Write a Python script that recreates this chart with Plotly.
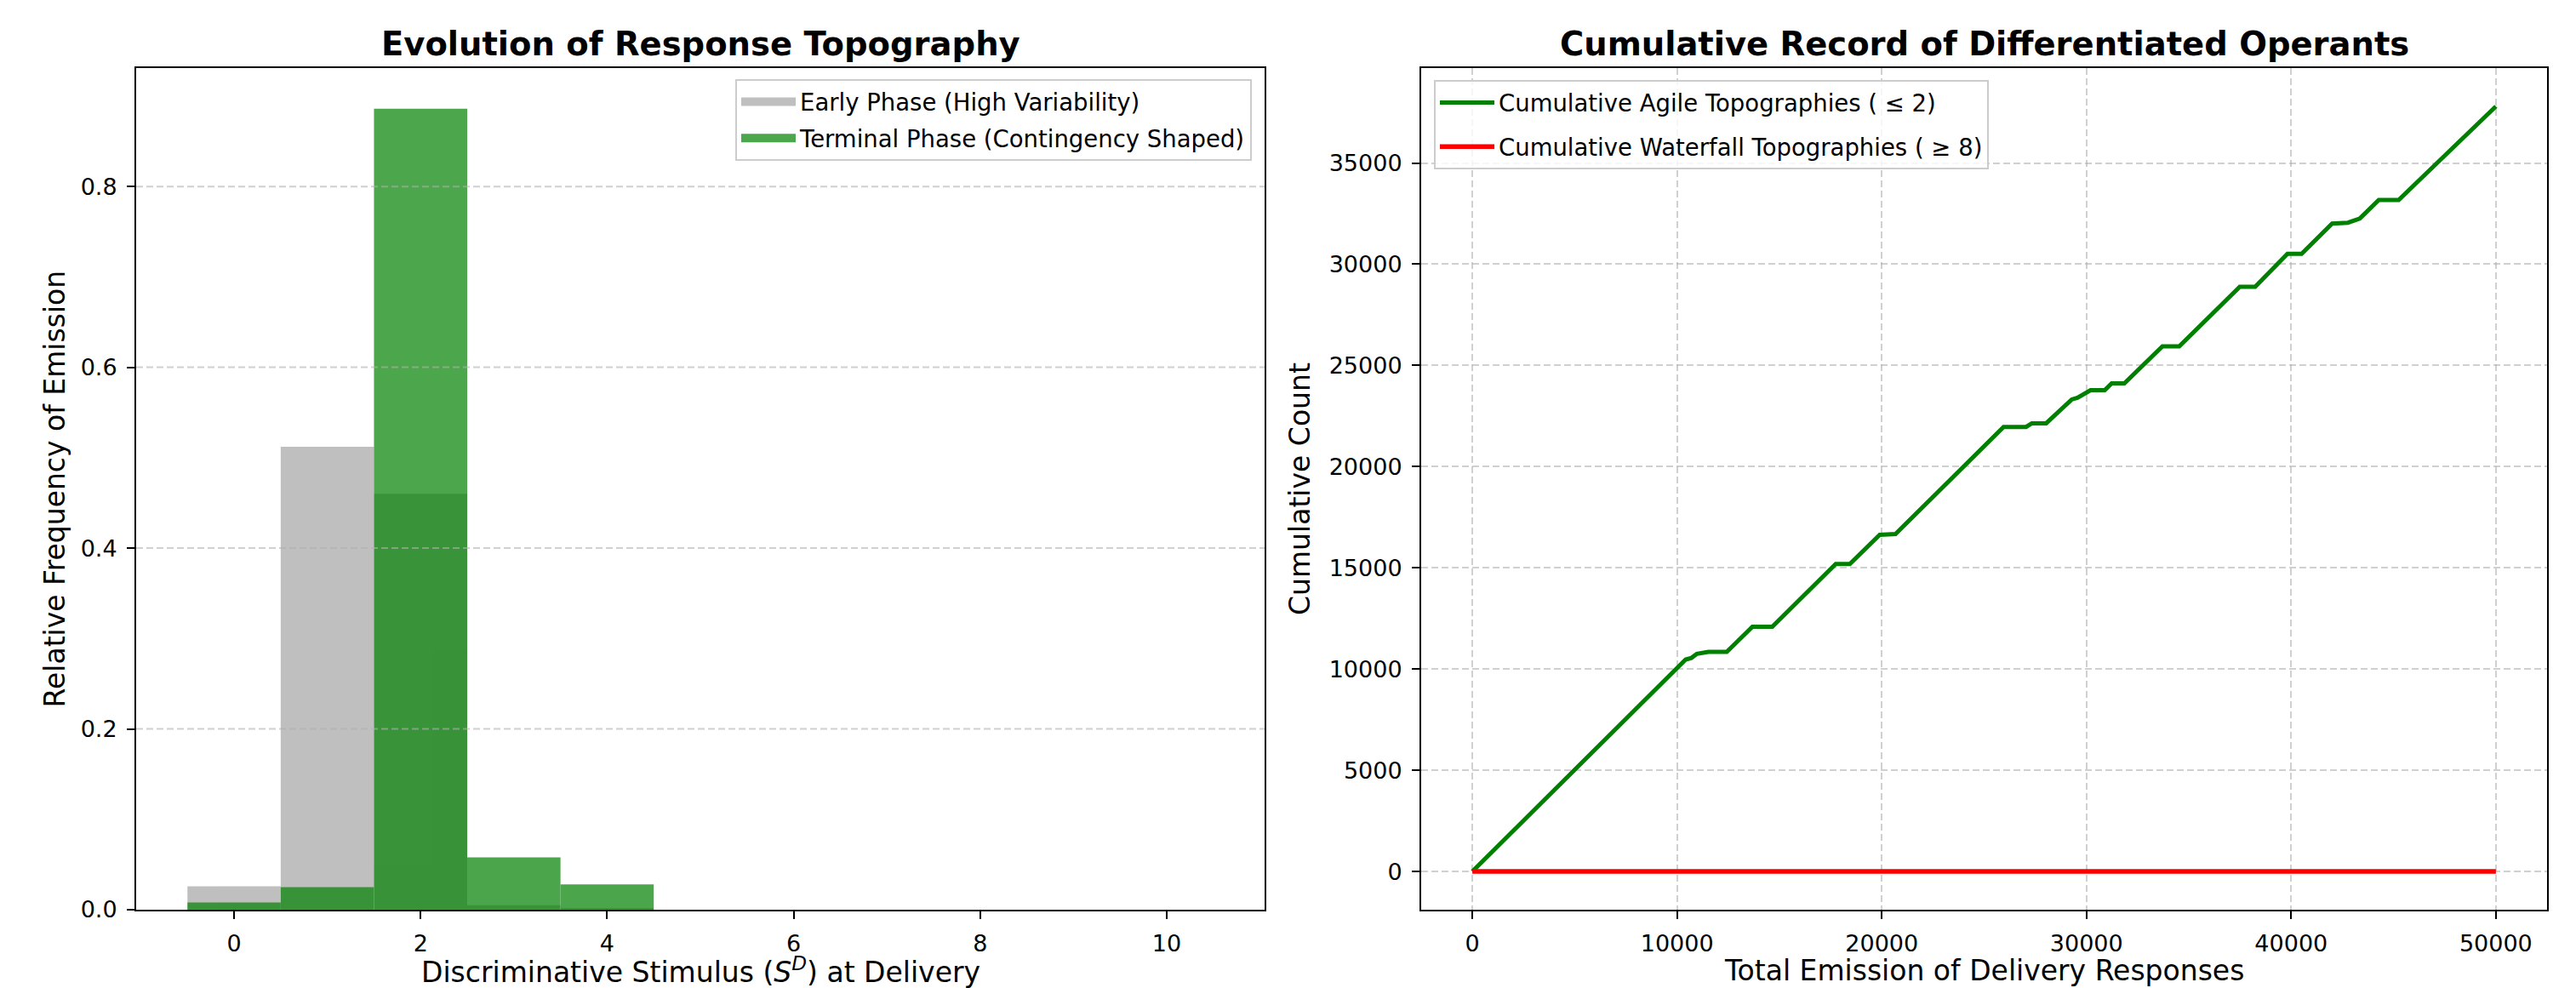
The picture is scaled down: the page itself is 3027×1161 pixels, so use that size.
import plotly.graph_objects as go

W, H = 3027, 1161
MT, MB = 80, 92
PLOT_H = H - MT - MB
FONT = "DejaVu Sans"

# ---------------- Left panel: histogram (relative frequency per S^D bin) ----------------
sd_bins = list(range(11))
early_freq = [0.026, 0.512, 0.460, 0.005, 0.0015, 0, 0, 0, 0, 0, 0]
terminal_freq = [0.008, 0.025, 0.886, 0.058, 0.028, 0, 0, 0, 0, 0, 0]
hist_xticks = [0, 2, 4, 6, 8, 10]
hist_yticks = [0.0, 0.2, 0.4, 0.6, 0.8]
early_name = "Early Phase (High Variability)"
terminal_name = "Terminal Phase (Contingency Shaped)"

# ---------------- Right panel: cumulative record ----------------
total_emissions = [0, 10420, 10700, 10970, 11530, 12430, 13680, 14650, 17750, 18440,
                   19900, 20670, 25950, 27050, 27330, 28030, 29280, 29560, 30200, 30890,
                   31230, 31850, 33710, 34530, 37490, 38240, 39820, 40510, 42000, 42770,
                   43350, 44280, 45250, 50000]
agile_cum = [0, 10470, 10550, 10750, 10850, 10850, 12090, 12090, 15190, 15190,
             16630, 16670, 21960, 21960, 22140, 22140, 23320, 23400, 23775, 23775,
             24110, 24110, 25945, 25945, 28890, 28890, 30514, 30514, 32005, 32050,
             32254, 33175, 33175, 37800]
waterfall_x = [0, 50000]
waterfall_cum = [0, 0]
cum_xticks = [0, 10000, 20000, 30000, 40000, 50000]
cum_yticks = [0, 5000, 10000, 15000, 20000, 25000, 30000, 35000]
agile_name = "Cumulative Agile Topographies ( \u2264 2)"
waterfall_name = "Cumulative Waterfall Topographies ( \u2265 8)"

GRAY_A = "rgba(128,128,128,0.5)"
GREEN_A = "rgba(0,128,0,0.7)"
GRID = "rgba(176,176,176,0.6)"

fig = go.Figure()

# histogram bars
fig.add_trace(go.Bar(x=sd_bins, y=early_freq, width=1.0, name=early_name,
                     marker=dict(color="gray", line=dict(width=0)), opacity=0.5,
                     showlegend=False, xaxis="x", yaxis="y"))
fig.add_trace(go.Bar(x=sd_bins, y=terminal_freq, width=1.0, name=terminal_name,
                     marker=dict(color="green", line=dict(width=0)), opacity=0.7,
                     showlegend=False, xaxis="x", yaxis="y"))
# legend swatches for the histogram
fig.add_trace(go.Scatter(x=[None], y=[None], mode="lines", name=early_name,
                         line=dict(color=GRAY_A, width=19), legend="legend",
                         legendgroup="g1", xaxis="x", yaxis="y"))
fig.add_trace(go.Scatter(x=[None], y=[None], mode="lines", name=terminal_name,
                         line=dict(color=GREEN_A, width=19), legend="legend",
                         legendgroup="g2", xaxis="x", yaxis="y"))

# cumulative lines
fig.add_trace(go.Scatter(x=total_emissions, y=agile_cum, mode="lines", name=agile_name,
                         line=dict(color="green", width=5), legend="legend2",
                         legendgroup="l1", xaxis="x2", yaxis="y2"))
fig.add_trace(go.Scatter(x=waterfall_x, y=waterfall_cum, mode="lines", name=waterfall_name,
                         line=dict(color="red", width=5.5), legend="legend2",
                         legendgroup="l2", xaxis="x2", yaxis="y2"))

axis_common = dict(
    showline=True, linecolor="black", linewidth=2, mirror=True,
    ticks="outside", ticklen=9, tickwidth=2, tickcolor="black",
    tickfont=dict(family=FONT, size=27, color="black"),
    zeroline=False, ticklabelstandoff=6,
)

L_DOM = [160 / W, 1486 / W]
R_DOM = [1670 / W, 2993 / W]

legend_common = dict(bgcolor="rgba(255,255,255,0.8)", bordercolor="#cccccc", borderwidth=2,
                     font=dict(family=FONT, size=27.5, color="black"), itemwidth=64)

fig.update_layout(
    width=W, height=H,
    margin=dict(l=0, r=0, t=MT, b=MB),
    paper_bgcolor="white", plot_bgcolor="white",
    font=dict(family=FONT, color="black"),
    barmode="overlay",
    xaxis=dict(domain=L_DOM, anchor="y", range=[-1.05, 11.05], tickvals=hist_xticks,
               showgrid=False, **axis_common),
    yaxis=dict(domain=[0, 1], anchor="x", range=[0, 0.931], tickvals=hist_yticks,
               tickformat=".1f", showgrid=False, **axis_common),
    xaxis2=dict(domain=R_DOM, anchor="y2", range=[-2500, 52500], tickvals=cum_xticks,
                tickformat="d", showgrid=True, gridcolor=GRID, gridwidth=2,
                griddash="8px,4px", **axis_common),
    yaxis2=dict(domain=[0, 1], anchor="x2", range=[-1890, 39690], tickvals=cum_yticks,
                tickformat="d", showgrid=True, gridcolor=GRID, gridwidth=2,
                griddash="8px,4px", **axis_common),
    legend=dict(x=1471 / W, xanchor="right", y=(H - MB - 93) / PLOT_H, yanchor="top",
                tracegroupgap=4, **legend_common),
    legend2=dict(x=1685 / W, xanchor="left", y=(H - MB - 94) / PLOT_H, yanchor="top",
                 tracegroupgap=13, **legend_common),
    showlegend=True,
)

# left-panel y grid drawn above the bars (as in the original)
for v in hist_yticks[1:]:
    fig.add_shape(type="line", xref="x domain", yref="y", x0=0, x1=1, y0=v, y1=v,
                  line=dict(color=GRID, width=2, dash="8px,4px"), layer="above")

def py(px_from_top):
    return (H - MB - px_from_top) / PLOT_H

anns = [
    dict(text="<b>Evolution of Response Topography</b>", xref="x domain", x=0.5,
         yref="paper", y=py(52), yanchor="middle", font=dict(size=38.5)),
    dict(text="<b>Cumulative Record of Differentiated Operants</b>", xref="x2 domain", x=0.5,
         yref="paper", y=py(52), yanchor="middle", font=dict(size=38.5)),
    dict(text="Discriminative Stimulus (<i>S</i><sup><i>D</i></sup>) at Delivery",
         xref="x domain", x=0.5, yref="paper", y=py(1140), yanchor="middle",
         font=dict(size=33)),
    dict(text="Total Emission of Delivery Responses", xref="x2 domain", x=0.5,
         yref="paper", y=py(1140), yanchor="middle", font=dict(size=33)),
    dict(text="Relative Frequency of Emission", xref="paper", x=63.5 / W, xanchor="center",
         yref="paper", y=py(575), yanchor="middle", textangle=-90, font=dict(size=33)),
    dict(text="Cumulative Count", xref="paper", x=1527 / W, xanchor="center",
         yref="paper", y=py(575), yanchor="middle", textangle=-90, font=dict(size=33)),
]
for a in anns:
    a["showarrow"] = False
    a["font"] = dict(family=FONT, color="black", **a["font"])
    fig.add_annotation(**a)

fig.write_html("out.html", config={"displayModeBar": False},
               post_script="document.body.style.margin='0';document.body.style.overflow='hidden';")
